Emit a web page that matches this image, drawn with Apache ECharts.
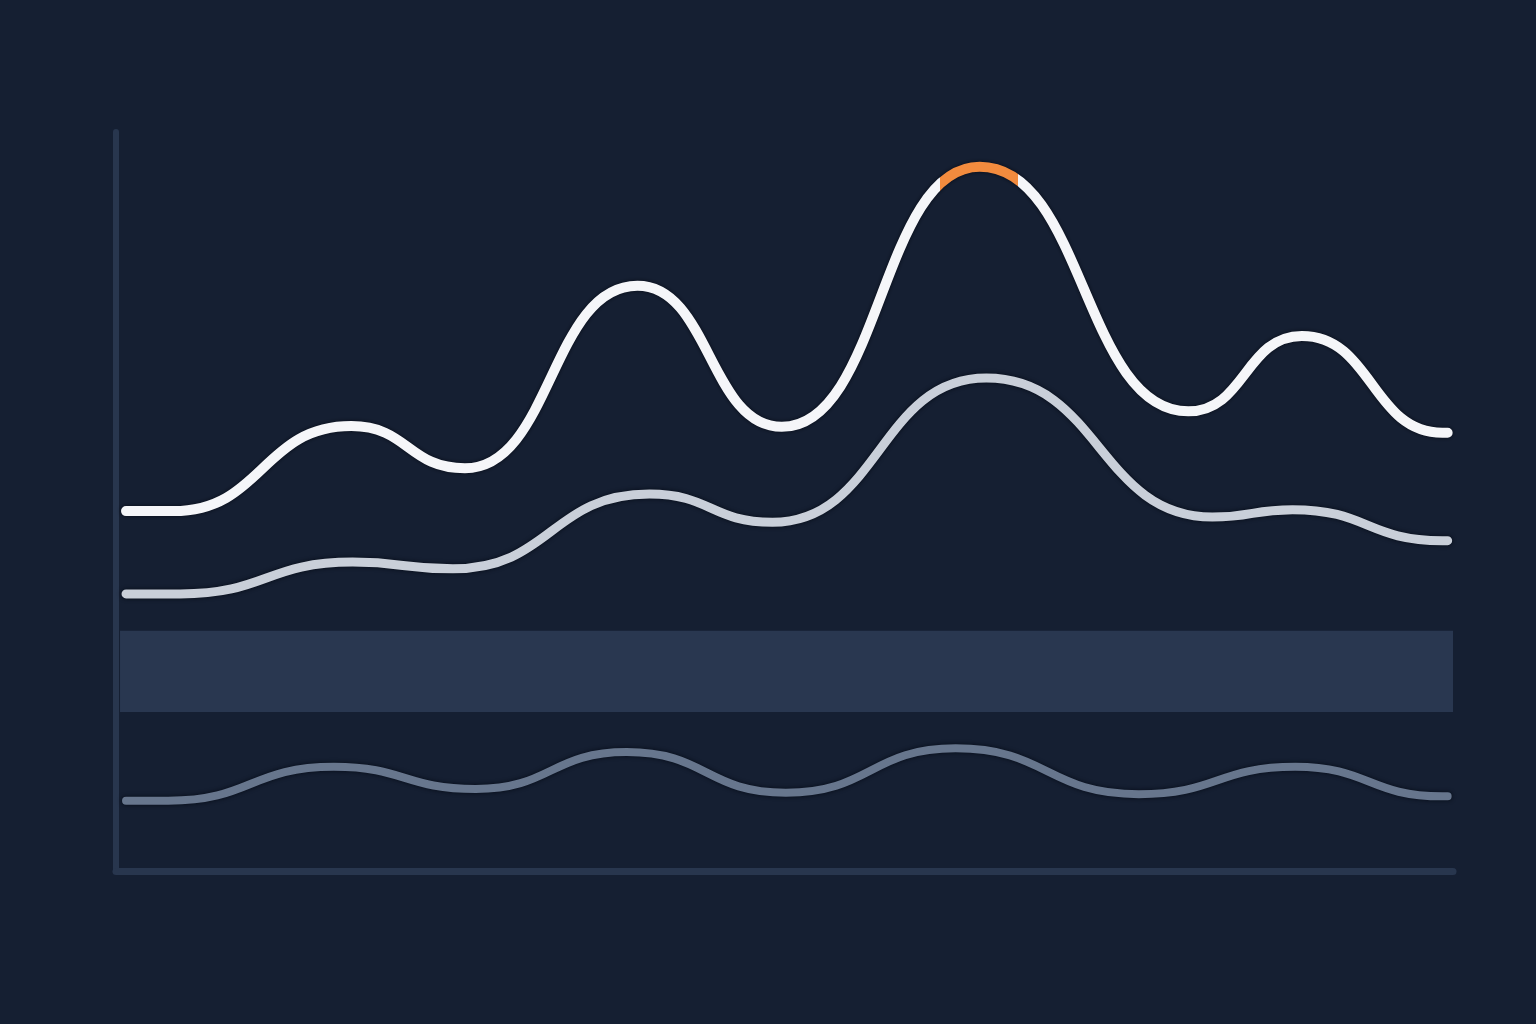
<!DOCTYPE html>
<html>
<head>
<meta charset="utf-8">
<title>Waves</title>
<script src="https://cdn.jsdelivr.net/npm/echarts@6/dist/echarts.min.js"></script>
<style>
  html, body { margin: 0; padding: 0; background: #151f32; }
  #chart { width: 1536px; height: 1024px; }
</style>
</head>
<body>
<div id="chart"></div>
<script>
// x positions (0-100) and values (0-100);
// each line ends with a short level tail so the curve finishes flat
const topX    = [0.75, 4.3, 17.6, 26.1, 39.0, 49.8, 64.6, 80.2, 88.7, 99.2, 99.6];
const topY    = [48.7, 48.7, 60.2, 54.5, 79.2, 60.1, 95.3, 62.2, 72.4, 59.3, 59.3];
const midX    = [0.75, 4.8, 17.7, 25.2, 39.9, 49.1, 65.1, 82.0, 88.0, 99.2, 99.6];
const midY    = [37.5, 37.5, 41.8, 40.9, 51.0, 47.2, 66.7, 47.9, 48.9, 44.7, 44.7];
const lowX    = [0.75, 3.9, 16.3, 26.9, 38.2, 50.1, 62.8, 76.5, 88.2, 99.2, 99.6];
const lowY    = [9.5, 9.5, 14.1, 11.1, 16.1, 10.6, 16.6, 10.4, 14.1, 10.1, 10.1];
// highlighted span on the top line and the shaded band
const peakSpan = [61.6, 67.5];
const bandX = [0.3, 100];
const bandY = [21.5, 32.5];

function pairs(xs, ys) {
  return xs.map(function (x, i) { return [x, ys[i]]; });
}

let myChart = echarts.init(document.getElementById("chart"));

const halo = { shadowColor: "rgba(4,8,18,0.85)", shadowBlur: 4 };

let option = {
  backgroundColor: "#151f32",
  animation: false,
  grid: { left: 116, right: 83, top: 132, bottom: 153 },
  xAxis: {
    type: "value",
    min: 0,
    max: 100,
    axisLine: { show: true, lineStyle: { color: "#28364e", width: 7 } },
    axisTick: { show: false },
    axisLabel: { show: false },
    splitLine: { show: false },
  },
  yAxis: {
    type: "value",
    min: 0,
    max: 100,
    axisLine: { show: true, lineStyle: { color: "#28364e", width: 6 } },
    axisTick: { show: false },
    axisLabel: { show: false },
    splitLine: { show: false },
  },
  visualMap: {
    show: false,
    type: "piecewise",
    seriesIndex: 0,
    dimension: 0,
    pieces: [
      { lt: peakSpan[0], color: "#f5f6f9" },
      { gte: peakSpan[0], lte: peakSpan[1], color: "#f28b3e" },
      { gt: peakSpan[1], color: "#f5f6f9" },
    ],
  },
  series: [
    {
      type: "line",
      data: pairs(topX, topY),
      smooth: 0.5,
      smoothMonotone: "x",
      symbol: "none",
      z: 5,
      lineStyle: Object.assign({ width: 10, cap: "round" }, halo),
    },
    {
      type: "line",
      data: pairs(midX, midY),
      smooth: 0.5,
      smoothMonotone: "x",
      symbol: "none",
      z: 4,
      lineStyle: Object.assign({ width: 9, color: "#c9cfd9", cap: "round" }, halo),
      markArea: {
        silent: true,
        itemStyle: { color: "#293750" },
        data: [[{ coord: [bandX[0], bandY[0]] }, { coord: [bandX[1], bandY[1]] }]],
      },
    },
    {
      type: "line",
      data: pairs(lowX, lowY),
      smooth: 0.5,
      smoothMonotone: "x",
      symbol: "none",
      z: 3,
      lineStyle: Object.assign({ width: 8, color: "#67768d", cap: "round" }, halo),
    },
  ],
};

myChart.setOption(option);
</script>
</body>
</html>
